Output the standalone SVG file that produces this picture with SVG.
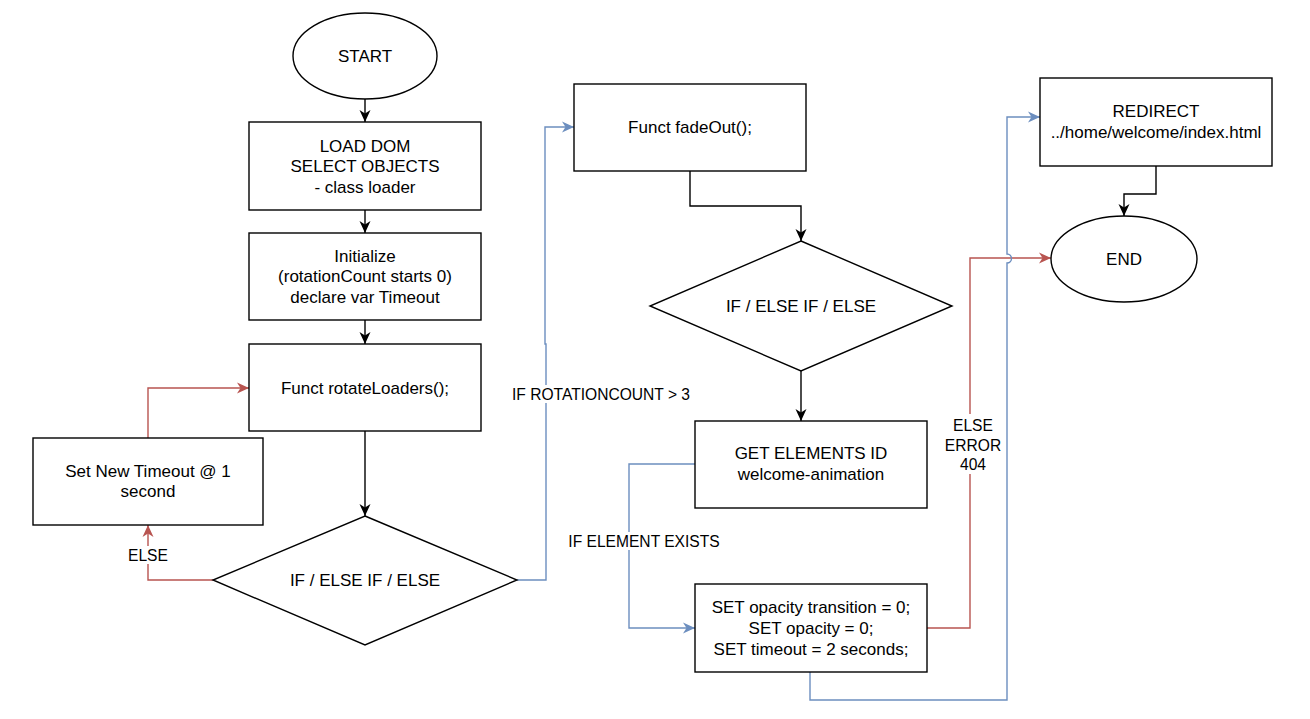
<svg xmlns="http://www.w3.org/2000/svg" width="1310" height="719" viewBox="0 0 1310 719">
<style>
.n{fill:#fff;stroke:#000;stroke-width:1.4}
.t{font-family:"Liberation Sans",Arial,Helvetica,sans-serif;font-size:17px;fill:#000;text-anchor:middle;dominant-baseline:central}
.l{font-family:"Liberation Sans",Arial,Helvetica,sans-serif;font-size:15.6px;fill:#000;text-anchor:middle;dominant-baseline:central}
.k{fill:none;stroke:#000;stroke-width:1.4}
.r{fill:none;stroke:#b85450;stroke-width:1.4}
.b{fill:none;stroke:#6c8ebf;stroke-width:1.4}
.bg{fill:#fff}
</style>
<defs>
<marker id="ak" markerUnits="userSpaceOnUse" markerWidth="14" markerHeight="14" refX="12.5" refY="7" orient="auto"><path d="M0.5,1.5 L12.5,7 L0.5,12.5 L4,7 z" fill="#000"/></marker>
<marker id="ar" markerUnits="userSpaceOnUse" markerWidth="14" markerHeight="14" refX="12.5" refY="7" orient="auto"><path d="M0.5,1.5 L12.5,7 L0.5,12.5 L4,7 z" fill="#b85450"/></marker>
<marker id="ab" markerUnits="userSpaceOnUse" markerWidth="14" markerHeight="14" refX="12.5" refY="7" orient="auto"><path d="M0.5,1.5 L12.5,7 L0.5,12.5 L4,7 z" fill="#6c8ebf"/></marker>
</defs>
<rect width="1310" height="719" fill="#fff"/>
<g id="connectors">
<path class="k" d="M365,99 V122" marker-end="url(#ak)"/>
<path class="k" d="M365,210 V233" marker-end="url(#ak)"/>
<path class="k" d="M365,320 V344" marker-end="url(#ak)"/>
<path class="k" d="M365,431 V516" marker-end="url(#ak)"/>
<path class="r" d="M213,580 H148 V525" marker-end="url(#ar)"/>
<rect class="bg" x="126" y="546" width="44" height="18"/>
<text class="l" x="148" y="555">ELSE</text>
<path class="r" d="M148,438 V388 H249" marker-end="url(#ar)"/>
<path class="b" d="M517,580 H546 V344 H545 V127 H574" marker-end="url(#ab)"/>
<rect class="bg" x="508" y="385" width="186" height="18"/>
<text class="l" x="601" y="394">IF ROTATIONCOUNT &gt; 3</text>
<path class="k" d="M690,171 V206 H801 V241" marker-end="url(#ak)"/>
<path class="k" d="M801,371 V421" marker-end="url(#ak)"/>
<path class="b" d="M695,464 H629 V628 H695" marker-end="url(#ab)"/>
<rect class="bg" x="565" y="532" width="158" height="18"/>
<text class="l" x="644" y="541">IF ELEMENT EXISTS</text>
<path class="r" d="M927,628 H970 V258 H1051" marker-end="url(#ar)"/>
<rect class="bg" x="948" y="414" width="50" height="60"/>
<text class="l" x="973" y="425">ELSE</text>
<text class="l" x="973" y="445">ERROR</text>
<text class="l" x="973" y="464">404</text>
<path class="b" d="M810,672 V700 H1007 V263 A4.5,4.5 0 0 0 1007,254 V117 H1040" marker-end="url(#ab)"/>
<path class="k" d="M1156,166 V194 H1124 V216" marker-end="url(#ak)"/>
</g>
<g id="start"><ellipse class="n" cx="365" cy="56" rx="72" ry="43"/><text class="t" x="365" y="56">START</text></g>
<g id="loaddom"><rect class="n" x="249" y="122" width="232" height="88"/><text class="t" x="365" y="146">LOAD DOM</text><text class="t" x="365" y="166.5">SELECT OBJECTS</text><text class="t" x="365" y="187">- class loader</text></g>
<g id="init"><rect class="n" x="249" y="233" width="232" height="87"/><text class="t" x="365" y="256">Initialize</text><text class="t" x="365" y="276.5">(rotationCount starts 0)</text><text class="t" x="365" y="297">declare var Timeout</text></g>
<g id="rotate"><rect class="n" x="249" y="344" width="232" height="87"/><text class="t" x="365" y="388">Funct rotateLoaders();</text></g>
<g id="timeout"><rect class="n" x="33" y="438" width="230" height="87"/><text class="t" x="148" y="471">Set New Timeout @ 1</text><text class="t" x="148" y="491.5">second</text></g>
<g id="decision1"><polygon class="n" points="365,516 517,580 365,645 213,580"/><text class="t" x="365" y="580">IF / ELSE IF / ELSE</text></g>
<g id="fadeout"><rect class="n" x="574" y="84" width="232" height="87"/><text class="t" x="690" y="127">Funct fadeOut();</text></g>
<g id="decision2"><polygon class="n" points="801,241 952,306 801,371 650,306"/><text class="t" x="801" y="306">IF / ELSE IF / ELSE</text></g>
<g id="getel"><rect class="n" x="695" y="421" width="232" height="87"/><text class="t" x="811" y="453.5">GET ELEMENTS ID</text><text class="t" x="811" y="474">welcome-animation</text></g>
<g id="setop"><rect class="n" x="695" y="584" width="232" height="88"/><text class="t" x="811" y="607">SET opacity transition = 0;</text><text class="t" x="811" y="628">SET opacity = 0;</text><text class="t" x="811" y="649">SET timeout = 2 seconds;</text></g>
<g id="redirect"><rect class="n" x="1040" y="78" width="232" height="88"/><text class="t" x="1156" y="111">REDIRECT</text><text class="t" x="1156" y="132">../home/welcome/index.html</text></g>
<g id="end"><ellipse class="n" cx="1124" cy="259" rx="73" ry="43"/><text class="t" x="1124" y="259">END</text></g>
</svg>
